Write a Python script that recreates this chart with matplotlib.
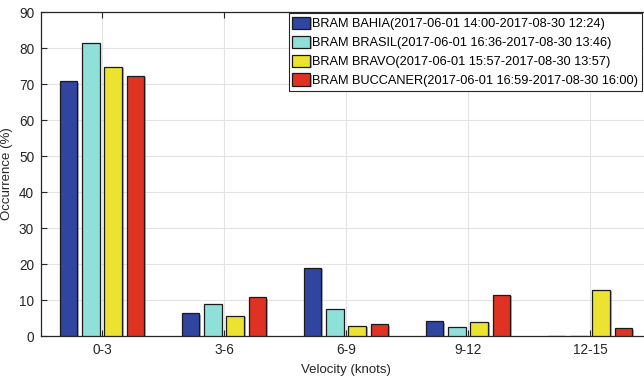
import numpy as np
import matplotlib
matplotlib.use("Agg")
import matplotlib.pyplot as plt
import matplotlib.patheffects as pe

plt.rcParams['font.family'] = ['Liberation Sans', 'DejaVu Sans']

# occurrence (%) per velocity bin for each buoy
bins = ['0-3', '3-6', '6-9', '9-12', '12-15']
bahia = [70.8, 6.3, 19.0, 4.1, 0.1]
brasil = [81.3, 8.8, 7.4, 2.5, 0.1]
bravo = [74.8, 5.6, 2.8, 4.0, 12.9]
buccaner = [72.2, 10.8, 3.3, 11.5, 2.1]

names = ['BRAM BAHIA(2017-06-01 14:00-2017-08-30 12:24)',
         'BRAM BRASIL(2017-06-01 16:36-2017-08-30 13:46)',
         'BRAM BRAVO(2017-06-01 15:57-2017-08-30 13:57)',
         'BRAM BUCCANER(2017-06-01 16:59-2017-08-30 16:00)']
colors = ['#2f45a0', '#8fe0d9', '#ebe330', '#e03222']

fig = plt.figure(figsize=(6.44, 3.77), dpi=100)
# axes runs past the right edge on purpose
ax = fig.add_axes([41/644, 41/377, 610/644, 324/377])

x = np.arange(1, len(bins) + 1)
step = 0.183
width = 0.147
series = [bahia, brasil, bravo, buccaner]
shadow = [pe.SimplePatchShadow(offset=(1, -1), shadow_rgbFace='0.4', alpha=0.5), pe.Normal()]
for i, (vals, name, c) in enumerate(zip(series, names, colors)):
    ax.bar(x + (i - 1.5) * step, vals, width, color=c, edgecolor='#1a1a1a',
           linewidth=0.9, label=name, path_effects=shadow, zorder=3)

ax.set_xlim(0.5, 5.5)
ax.set_ylim(0, 90)
ax.set_xticks(x)
ax.set_xticklabels(bins)
ax.set_yticks(np.arange(0, 91, 10))
ax.tick_params(direction='in', length=4, width=0.8, top=True, right=True,
               labelsize=9.8, colors='#262626', pad=5)
ax.grid(True, color='#e3e3e3', linewidth=0.8, zorder=0)
ax.set_axisbelow(True)
for s in ax.spines.values():
    s.set_color('#262626')
    s.set_linewidth(0.9)

ax.set_xlabel('Velocity (knots)', fontsize=9.5, color='#262626', labelpad=5)
ax.set_ylabel('Occurrence (%)', fontsize=9.5, color='#262626', labelpad=4)

leg = ax.legend(loc='upper right', bbox_to_anchor=(642/644, 1 - 13/377),
                bbox_transform=fig.transFigure, borderaxespad=0, fontsize=9.2,
                handlelength=1.4, handleheight=1.1, handletextpad=0.15,
                labelspacing=0.42, borderpad=0.3, fancybox=False, framealpha=1)
leg.get_frame().set_edgecolor('#262626')
leg.get_frame().set_linewidth(0.8)

fig.savefig('out.png', dpi=100)
